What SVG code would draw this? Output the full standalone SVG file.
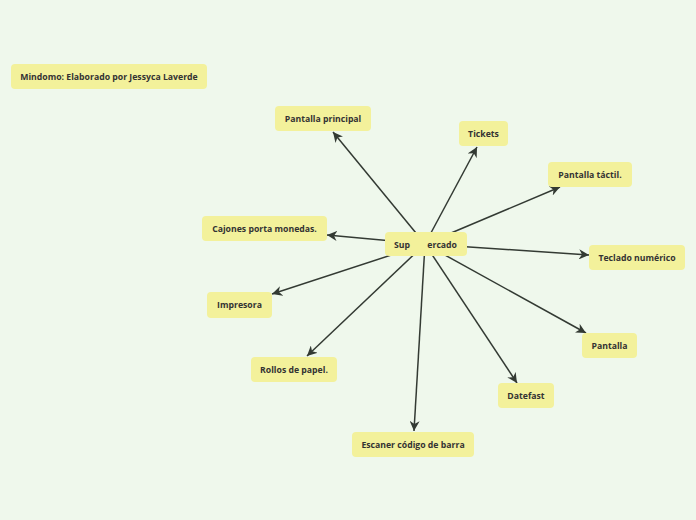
<svg xmlns="http://www.w3.org/2000/svg" width="696" height="520" viewBox="0 0 696 520">
<defs>
<style>
.n rect{fill:#f3f19b;}
.n text{font-family:"Open Sans","Noto Sans",sans-serif;font-size:8.7px;font-weight:bold;fill:#333;text-anchor:middle;}
.c line{stroke:#333a33;stroke-width:1.5;marker-end:url(#ah);}
</style>
<marker id="ah" markerUnits="userSpaceOnUse" markerWidth="12" markerHeight="10" refX="10" refY="5" orient="auto" viewBox="0 0 12 10">
<path d="M0,0 L10,5 L0,10 L3,5 Z" fill="#333a33"/>
</marker>
</defs>
<rect width="696" height="520" fill="#eff8ec"/>
<g id="connectors" class="c">
<line x1="425" y1="244" x2="333" y2="132"/>
<line x1="425" y1="244" x2="477" y2="147"/>
<line x1="425" y1="244" x2="560" y2="187"/>
<line x1="425" y1="244" x2="589" y2="255"/>
<line x1="425" y1="244" x2="586" y2="333"/>
<line x1="425" y1="244" x2="517" y2="383"/>
<line x1="425" y1="244" x2="414" y2="431"/>
<line x1="425" y1="244" x2="307" y2="356"/>
<line x1="425" y1="244" x2="272" y2="294"/>
<line x1="425" y1="244" x2="327" y2="235"/>
</g>
<g id="mindomo" class="n"><rect x="11" y="64" width="196" height="25" rx="4"/><text x="109" y="80">Mindomo: Elaborado por Jessyca Laverde</text></g>
<g id="central" class="n"><rect x="385" y="232" width="82" height="24" rx="4"/><text x="394" y="248" style="text-anchor:start">Sup</text><text x="457" y="248" style="text-anchor:end">ercado</text></g>
<g id="pantalla-principal" class="n"><rect x="275" y="106" width="96" height="25" rx="4"/><text x="323" y="122">Pantalla principal</text></g>
<g id="tickets" class="n"><rect x="459" y="121" width="49" height="25" rx="4"/><text x="483.5" y="137">Tickets</text></g>
<g id="pantalla-tactil" class="n"><rect x="548" y="162" width="84" height="25" rx="4"/><text x="590" y="178">Pantalla táctil.</text></g>
<g id="teclado" class="n"><rect x="589" y="245" width="96" height="25" rx="4"/><text x="637" y="261">Teclado numérico</text></g>
<g id="pantalla" class="n"><rect x="582" y="333" width="55" height="25" rx="4"/><text x="609.5" y="349">Pantalla</text></g>
<g id="datefast" class="n"><rect x="498" y="383" width="56" height="25" rx="4"/><text x="526" y="399">Datefast</text></g>
<g id="escaner" class="n"><rect x="352" y="432" width="122" height="25" rx="4"/><text x="413" y="448">Escaner código de barra</text></g>
<g id="rollos" class="n"><rect x="251" y="357" width="86" height="25" rx="4"/><text x="294" y="373">Rollos de papel.</text></g>
<g id="impresora" class="n"><rect x="207" y="292" width="65" height="26" rx="4"/><text x="239.5" y="308">Impresora</text></g>
<g id="cajones" class="n"><rect x="202" y="216" width="125" height="25" rx="4"/><text x="264.5" y="232">Cajones porta monedas.</text></g>
</svg>
